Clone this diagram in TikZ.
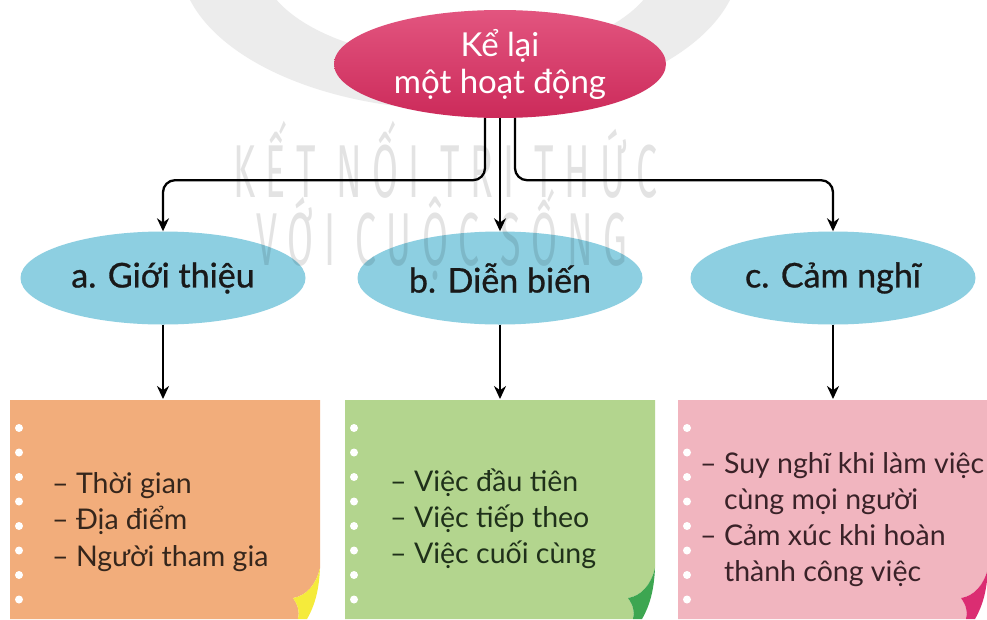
\documentclass[tikz,border=0pt]{standalone}
\usepackage{fontspec}
\setmainfont{Lato}
\newfontfamily\headfont[FakeBold=0.8]{Lato}
\newfontfamily\wmfont[FakeStretch=0.5,LetterSpace=14]{Fira Sans}
\usetikzlibrary{shapes.geometric,arrows.meta}
\definecolor{topred1}{HTML}{E2557F}
\definecolor{topred2}{HTML}{CC2A5A}
\definecolor{skyblue}{HTML}{8DCFE1}
\definecolor{paperorange}{HTML}{F2AD7B}
\definecolor{papergreen}{HTML}{B3D58E}
\definecolor{paperpink}{HTML}{F1B5BF}
\definecolor{curlyellow}{HTML}{F5EB3B}
\definecolor{curlgreen}{HTML}{3DA651}
\definecolor{curlpink}{HTML}{DB2D72}
\definecolor{ringgray}{HTML}{ECECEC}
\definecolor{txtbrown}{HTML}{35261C}
\definecolor{txtgreen}{HTML}{1F301A}
\definecolor{txtpink}{HTML}{3A2228}
\tikzset{
  topell/.style={ellipse, minimum width=332, minimum height=108, inner sep=0pt,
    top color=topred1, bottom color=topred2, text=white, align=center,
    font=\fontsize{33}{37}\selectfont},
  blueell/.style={ellipse, minimum width=285, minimum height=93, inner sep=0pt,
    fill=skyblue, text=black!90, font=\headfont\fontsize{34}{38}\selectfont},
  conn/.style={line width=2.3pt, draw=black, -{Stealth[length=13pt,width=12pt]}},
  boxtxt/.style={anchor=base west, inner sep=0pt, font=\fontsize{28.5}{32}\selectfont},
  wm/.style={anchor=base west, text=black, opacity=0.11, font=\wmfont\fontsize{75}{75}\selectfont, inner sep=0pt}
}
\newcommand\paperbox[3]{%
  \begin{scope}[xshift=#1]
    \fill[#2] (0,400) -- (310,400) -- (310,568)
      .. controls (306,585) and (296,596) .. (283,598)
      .. controls (288,605) and (290,612) .. (288,619) -- (0,619) -- cycle;
    \fill[#3] (310,568) .. controls (306,585) and (296,596) .. (283,598)
      .. controls (288,605) and (290,612) .. (288,619) -- (297,619)
      .. controls (305,605) and (309,590) .. (310,568) -- cycle;
    \foreach \k in {0,...,7} \fill[white] (9,428+24.5*\k) circle (4);
  \end{scope}}
\begin{document}
\begin{tikzpicture}[x=1pt,y=-1pt]
\useasboundingbox (0,0) rectangle (987,619);
\fill[white] (0,0) rectangle (987,619);
% faint logo ring
\fill[ringgray, even odd rule] (460,-40) ellipse [x radius=280, y radius=150]
  (460,-40) ellipse [x radius=200, y radius=100];
% nodes
\node[topell] (top) at (500,64) {Kể lại\\một hoạt động};
\node[blueell] (a) at (163,278) {a. Giới thiệu};
\node[blueell] (b) at (500,278) {b. Diễn biến};
\node[blueell] (c) at (833,278) {c. Cảm nghĩ};
% watermark
\node[wm] (wm1) at (233,197) {KẾT NỐI TRI THỨC};
\node[wm] (wm2) at (256,265) {VỚI CUỘC SỐNG};
% boxes
\paperbox{10}{paperorange}{curlyellow}
\paperbox{345}{papergreen}{curlgreen}
\paperbox{678}{paperpink}{curlpink}
\coordinate (boxA) at (163,399);
\coordinate (boxB) at (500,399);
\coordinate (boxC) at (833,399);
% connectors
\draw[conn, rounded corners=12pt] ([xshift=-15pt]top.south) -- ++(0,62) -| (a.north);
\draw[conn] (top.south) -- (b.north);
\draw[conn, rounded corners=12pt] ([xshift=15pt]top.south) -- ++(0,62) -| (c.north);
\draw[conn] (a.south) -- (boxA);
\draw[conn] (b.south) -- (boxB);
\draw[conn] (c.south) -- (boxC);
% box texts
\node[boxtxt, text=txtbrown] (a1) at (52,493) {– Thời gian};
\node[boxtxt, text=txtbrown] (a2) at (52,529.5) {– Địa điểm};
\node[boxtxt, text=txtbrown] (a3) at (52,566) {– Người tham gia};
\node[boxtxt, text=txtgreen] (b1) at (390,491) {– Việc đầu tiên};
\node[boxtxt, text=txtgreen] (b2) at (390,527) {– Việc tiếp theo};
\node[boxtxt, text=txtgreen] (b3) at (390,563) {– Việc cuối cùng};
\node[boxtxt, text=txtpink] (c1) at (700,473) {– Suy nghĩ khi làm việc};
\node[boxtxt, text=txtpink] (c2) at (700,509) {\phantom{– }cùng mọi người};
\node[boxtxt, text=txtpink] (c3) at (700,545) {– Cảm xúc khi hoàn};
\node[boxtxt, text=txtpink] (c4) at (700,581) {\phantom{– }thành công việc};
\end{tikzpicture}
\end{document}
